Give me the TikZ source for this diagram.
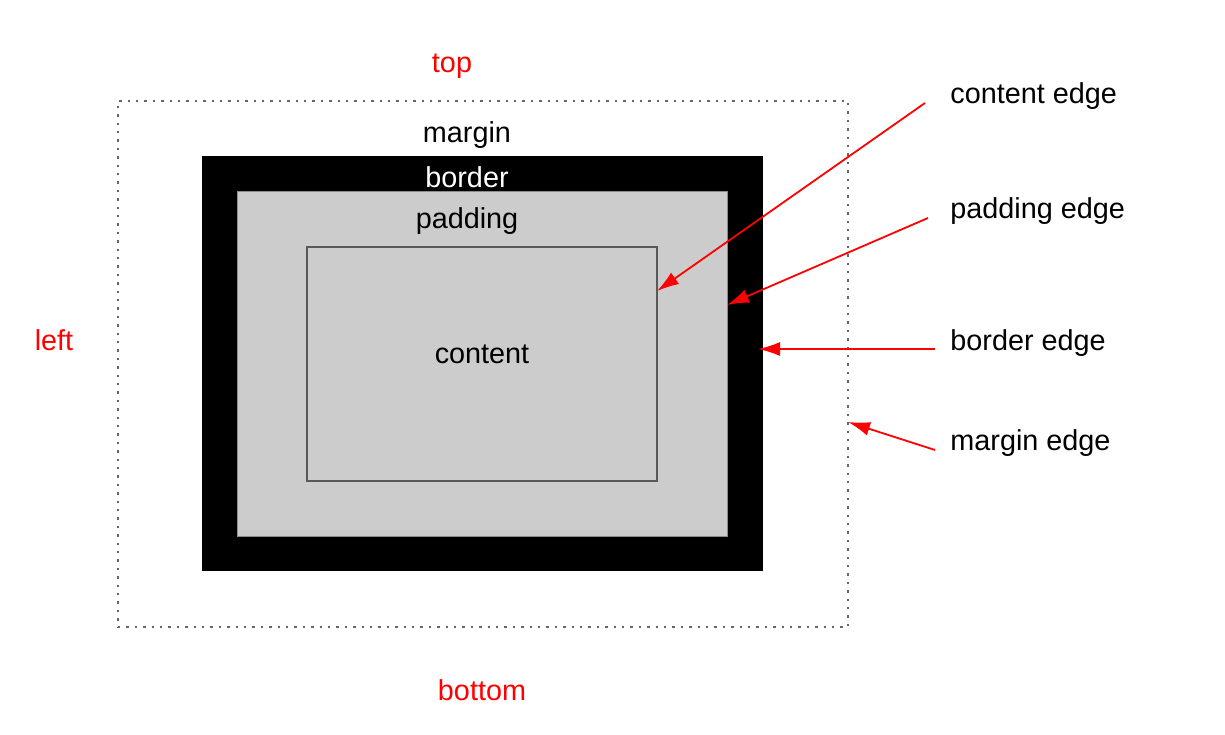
\documentclass[tikz,border=0pt]{standalone}
\usepackage{fontspec}
\setmainfont{Liberation Sans}
\usetikzlibrary{arrows.meta}

\begin{document}
\begin{tikzpicture}[
		x=0.5pt, y=-0.5pt,
		lbl/.style={
				font=\fontsize{14.4}{17}\selectfont,
				inner sep=0pt,
				anchor=base,
			},
		side/.style={lbl, text=red},
		edge/.style={lbl, anchor=base west},
		pointer/.style={
				draw=red,
				line width=0.9pt,
				-{Latex[length=11pt,width=7pt]},
			},
		box/.style={
				rectangle,
				inner sep=0pt,
				outer sep=0pt,
			},
	]

	\useasboundingbox (0,0) rectangle (1225,734);

	\node[box, draw=black!60, line width=0.7pt, dash pattern=on 1.2pt off 3pt,
		minimum width=365pt, minimum height=263pt] (margin) at (483,364) {};
	\node[box, fill=black, minimum width=280.5pt, minimum height=207.5pt] (border) at (482.5,363.5) {};
	\node[box, fill=black!20, draw=black!45, line width=0.5pt,
		minimum width=245pt, minimum height=172.5pt] (padding) at (482,363.5) {};
	\node[box, draw=black!65, line width=1pt,
		minimum width=175pt, minimum height=117pt] (content) at (482,364) {};

	\node[lbl] (marginlbl) at (467,142) {margin};
	\node[lbl, text=white] (borderlbl) at (467,187) {border};
	\node[lbl] (paddinglbl) at (467,228) {padding};
	\node[lbl] (contentlbl) at (482,363) {content};

	\node[side] (top) at (452,72) {top};
	\node[side] (left) at (54,350) {left};
	\node[side] (bottom) at (482,700) {bottom};

	\node[edge] (ce) at (950,103) {content edge};
	\node[edge] (pe) at (950,218) {padding edge};
	\node[edge] (be) at (950,350) {border edge};
	\node[edge] (me) at (950,450) {margin edge};

	\coordinate (ce-tail) at (925,103);
	\coordinate (pe-tail) at (928,218);
	\coordinate (be-tail) at (935,349);
	\coordinate (me-tail) at (935,450);

	\draw[pointer] (ce-tail) -- (content.east |- 0,291);
	\draw[pointer] (pe-tail) -- (padding.east |- 0,305);
	\draw[pointer] (be-tail) -- (758,349);
	\draw[pointer] (me-tail) -- (margin.east |- 0,422);
\end{tikzpicture}
\end{document}
